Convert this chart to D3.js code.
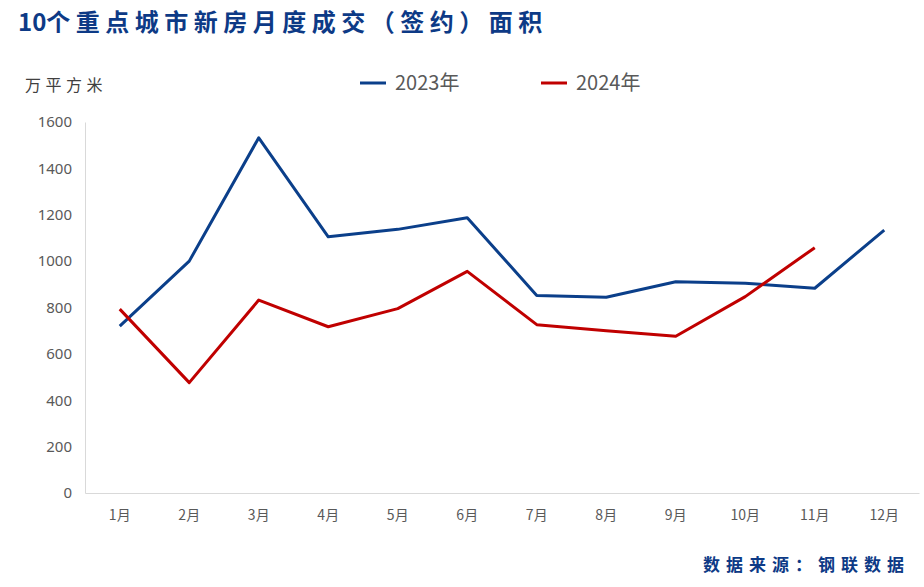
<!DOCTYPE html>
<html>
<head>
<meta charset="utf-8">
<script src="https://cdn.jsdelivr.net/npm/d3@7"></script>
<style>
  body { margin: 0; background: #fff; }
  text { font-family: "Noto Sans CJK SC", "Noto Sans", sans-serif; }
</style>
</head>
<body>
<div id="chart"></div>
<script>
// chart data
const months = ["1月", "2月", "3月", "4月", "5月", "6月", "7月", "8月", "9月", "10月", "11月", "12月"];
const series_names = ["2023年", "2024年"];
const values_2023 = [720, 1000, 1532, 1105, 1137, 1187, 852, 844, 911, 905, 883, 1134];
const values_2024 = [793, 476, 832, 717, 795, 956, 726, 700, 676, 847, 1058];
const y_ticks = [0, 200, 400, 600, 800, 1000, 1200, 1400, 1600];
const colors = ["#0B3F8A", "#C00000"];

var width = 924, height = 587;
var margin = {top: 122, right: 5, bottom: 94, left: 85};

var svg = d3.select("#chart")
  .append("svg")
    .attr("width", width)
    .attr("height", height);

// title: "10" tight, chinese part spaced
var title = svg.append("text")
  .attr("x", 18)
  .attr("y", 31)
  .attr("font-size", 24)
  .attr("font-weight", "bold")
  .attr("fill", "#0D3A86");
title.append("tspan")
  .attr("letter-spacing", 0)
  .text("10");
title.append("tspan")
  .attr("letter-spacing", 5.5)
  .text("个重点城市新房月度成交（签约）面积");

// unit
svg.append("text")
  .attr("x", 25)
  .attr("y", 91)
  .attr("font-size", 16)
  .attr("fill", "#404040")
  .attr("letter-spacing", 4.5)
  .text("万平方米");

var x = d3.scaleBand()
  .domain(months)
  .range([margin.left, width - margin.right]);

var y = d3.scaleLinear()
  .domain([0, 1600])
  .range([height - margin.bottom, margin.top]);

// y axis labels
var yAxis = svg.append("g")
  .attr("transform", "translate(" + margin.left + ",0)")
  .call(d3.axisLeft(y).tickValues(y_ticks).tickFormat(d3.format("d")).tickSize(0).tickPadding(13));
yAxis.select(".domain").attr("stroke", "#D9D9D9");
yAxis.selectAll("text")
  .attr("font-size", 15)
  .attr("fill", "#595959")
  .style("font-family", "'Liberation Sans Narrow', 'Noto Sans', sans-serif");

// x axis
var xAxis = svg.append("g")
  .attr("transform", "translate(0," + (height - margin.bottom) + ")")
  .call(d3.axisBottom(x).tickSize(0).tickPadding(17));
xAxis.select(".domain").attr("stroke", "#D9D9D9");
xAxis.selectAll("text")
  .attr("font-size", 14)
  .attr("fill", "#595959");

var line = d3.line()
  .x(function(d, i) { return x(months[i]) + x.bandwidth() / 2; })
  .y(function(d) { return y(d); });

[values_2023, values_2024].forEach(function(vals, k) {
  svg.append("path")
    .datum(vals)
    .attr("fill", "none")
    .attr("stroke", colors[k])
    .attr("stroke-width", 3)
    .attr("stroke-linejoin", "round")
    .attr("d", line);
});

// legend
var legend_x = [360, 541];
series_names.forEach(function(name, k) {
  svg.append("line")
    .attr("x1", legend_x[k]).attr("x2", legend_x[k] + 26)
    .attr("y1", 83).attr("y2", 83)
    .attr("stroke", colors[k])
    .attr("stroke-width", 3);
  svg.append("text")
    .attr("x", legend_x[k] + 35)
    .attr("y", 90)
    .attr("font-size", 20)
    .attr("fill", "#595959")
    .text(name);
});

// source
svg.append("text")
  .attr("x", 910)
  .attr("y", 571)
  .attr("text-anchor", "end")
  .attr("font-size", 17)
  .attr("font-weight", "bold")
  .attr("fill", "#0D3A86")
  .attr("letter-spacing", 6)
  .text("数据来源：钢联数据");
</script>
</body>
</html>
